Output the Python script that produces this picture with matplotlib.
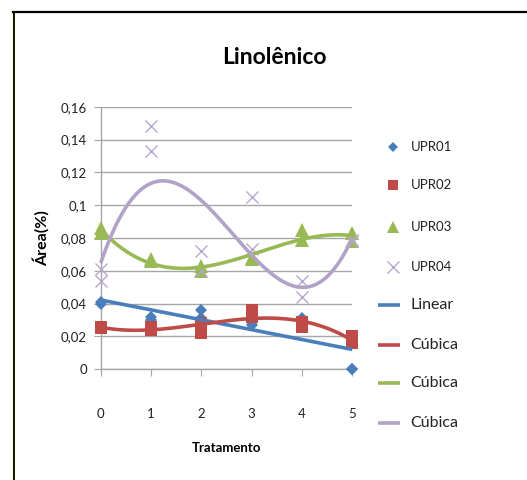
import numpy as np
import matplotlib
matplotlib.use("Agg")
import matplotlib.pyplot as plt
from matplotlib.lines import Line2D
from matplotlib.ticker import FuncFormatter, MultipleLocator

plt.rcParams["font.family"] = ["Lato", "DejaVu Sans"]

# Dados (duas repetições por tratamento)
tratamento = [0, 0, 1, 1, 2, 2, 3, 3, 4, 4, 5, 5]
upr01 = [0.041, 0.040, 0.032, 0.030, 0.036, 0.031, 0.029, 0.027, 0.031, 0.029, 0.0, 0.0]
upr02 = [0.026, 0.025, 0.026, 0.024, 0.028, 0.022, 0.036, 0.032, 0.029, 0.026, 0.020, 0.016]
upr03 = [0.086, 0.083, 0.067, 0.066, 0.063, 0.060, 0.068, 0.067, 0.085, 0.079, 0.083, 0.078]
upr04 = [0.061, 0.054, 0.148, 0.133, 0.072, 0.060, 0.105, 0.073, 0.054, 0.044, 0.079, 0.078]

series_labels = ["UPR01", "UPR02", "UPR03", "UPR04"]
trend_labels = ["Linear", "Cúbica", "Cúbica", "Cúbica"]
trend_degree = [1, 3, 3, 3]

marker_colors = ["#4A7EBB", "#BE4B48", "#98B954", "#B7A7CE"]
line_colors = ["#4A7EBB", "#BE4B48", "#98B954", "#B3A2C7"]
markers = ["D", "s", "^", "x"]
msizes = [6.5, 8.5, 9.5, 9]

fig = plt.figure(figsize=(5.27, 4.8), dpi=100)
W, H = 527.0, 480.0

# moldura do gráfico (cortada à direita e embaixo)
fig.add_artist(Line2D([12.5 / W, 12.5 / W], [0, 1 - 12 / H], color="#F2E600", lw=1.0, transform=fig.transFigure))
fig.add_artist(Line2D([14 / W, 14 / W], [0, 1 - 12 / H], color="black", lw=1.3, transform=fig.transFigure))
fig.add_artist(Line2D([13 / W, 1], [1 - 12 / H, 1 - 12 / H], color="black", lw=1.6, transform=fig.transFigure))

ax = fig.add_axes([100.7 / W, 1 - 369.3 / H, 251.6 / W, 262.6 / H])

x = np.array(tratamento)
all_series = [upr01, upr02, upr03, upr04]
for ys, lab, c, m, s in zip(all_series, series_labels, marker_colors, markers, msizes):
    if m == "x":
        ax.plot(x, ys, linestyle="none", marker=m, ms=s, mew=1.0, color=c, label=lab, zorder=3, clip_on=False)
    else:
        ax.plot(x, ys, linestyle="none", marker=m, ms=s, mew=0, color=c, label=lab, zorder=3, clip_on=False)

xs = np.linspace(0, 5, 200)
for ys, deg, c in zip(all_series, trend_degree, line_colors):
    coef = np.polyfit(x, ys, deg)
    ax.plot(xs, np.polyval(coef, xs), color=c, lw=2.6, zorder=4, solid_capstyle="butt", clip_on=False)

ax.set_xlim(0, 5)
ax.set_ylim(0, 0.16)
ax.yaxis.set_major_locator(MultipleLocator(0.02))
ax.xaxis.set_major_locator(MultipleLocator(1))
ax.yaxis.set_major_formatter(FuncFormatter(lambda v, p: f"{round(v, 2):g}".replace(".", ",")))
ax.grid(axis="y", color="#A6A6A6", lw=1.0)
ax.set_axisbelow(True)
for side in ["top", "right"]:
    ax.spines[side].set_visible(False)
for side in ["left", "bottom"]:
    ax.spines[side].set_color("#A6A6A6")
    ax.spines[side].set_linewidth(1.0)
ax.tick_params(axis="both", direction="out", length=5, color="#A6A6A6", labelsize=9.5, labelcolor="#222222")
ax.tick_params(axis="y", pad=5)
ax.tick_params(axis="x", pad=23)

fig.text(274 / W, 1 - 57 / H, "Linolênico", ha="center", va="center", fontsize=16.5, fontweight="bold")
fig.text(226.5 / W, 1 - 448 / H, "Tratamento", ha="center", va="center", fontsize=9.5, fontweight="bold")
fig.text(41.7 / W, 1 - 238 / H, "Área(%)", ha="center", va="center", rotation=90, fontsize=11.5, fontweight="bold")

# legenda
leg_y = [147, 185, 227, 267, 305, 345, 383, 423]
for i, (lab, c, m, s) in enumerate(zip(series_labels, marker_colors, markers, msizes)):
    yy = 1 - leg_y[i] / H
    if m == "x":
        fig.add_artist(Line2D([393 / W], [yy], marker=m, ms=s, mew=1.0, color=c, linestyle="none", transform=fig.transFigure))
    else:
        fig.add_artist(Line2D([393 / W], [yy], marker=m, ms=s * 0.85, mew=0, color=c, linestyle="none", transform=fig.transFigure))
    fig.text(411 / W, yy, lab, ha="left", va="center", fontsize=9.5, color="#222222")
for j, (lab, c) in enumerate(zip(trend_labels, line_colors)):
    yy = 1 - leg_y[4 + j] / H
    fig.add_artist(Line2D([378 / W, 400 / W], [yy, yy], color=c, lw=2.6, solid_capstyle="butt", transform=fig.transFigure))
    fig.text(410 / W, yy, lab, ha="left", va="center", fontsize=11.5, color="#222222")

fig.savefig("out.png", dpi=100)
